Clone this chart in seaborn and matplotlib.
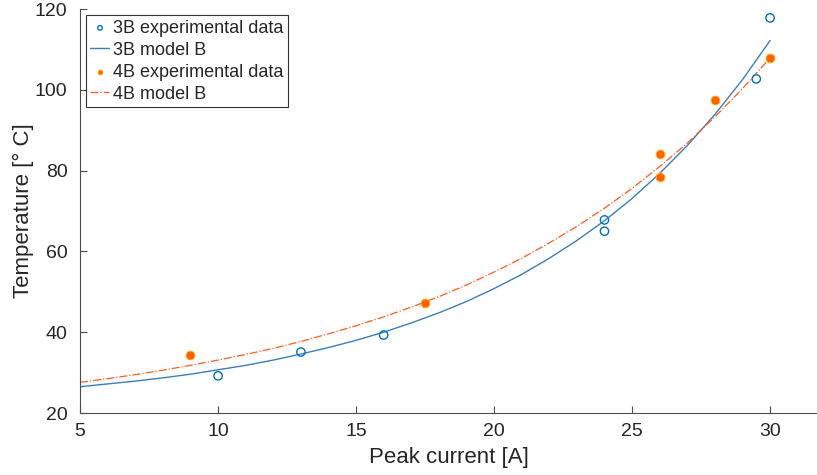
import numpy as np
import matplotlib
matplotlib.use("Agg")
import matplotlib.pyplot as plt
import seaborn as sns

sns.set_theme(style="white")
plt.rcParams['font.family'] = ['Liberation Sans', 'DejaVu Sans']

# experimental data
x_3b = [10, 13, 16, 24, 24, 29.5, 30]
t_3b = [29.2, 35.1, 39.3, 67.8, 65.0, 102.7, 117.8]
x_4b = [9, 17.5, 26, 26, 28, 30]
t_4b = [34.4, 47.2, 78.5, 84.0, 97.5, 107.9]

# model B curves, read every 1 A
x_model = list(range(5, 31))
t_3b_model = [26.5, 27.2, 27.9, 28.7, 29.6, 30.7, 31.8, 33.1, 34.6, 36.2,
              38.0, 40.0, 42.3, 44.8, 47.6, 50.8, 54.3, 58.3, 62.7, 67.6,
              73.1, 79.3, 86.2, 93.9, 102.5, 112.2]
t_4b_model = [27.6, 28.5, 29.5, 30.6, 31.8, 33.1, 34.5, 36.0, 37.7, 39.6,
              41.6, 43.8, 46.2, 48.8, 51.7, 54.9, 58.3, 62.1, 66.2, 70.7,
              75.6, 81.0, 86.8, 93.3, 100.3, 107.9]

blue = '#0072BD'
orange = '#FF6000'
grey = '#262626'
axis_grey = '#4d4d4d'

fig = plt.figure(figsize=(8.17, 4.75), dpi=100)
ax = fig.add_axes([0.098, 0.1305, 0.902, 0.8505])

sns.scatterplot(x=x_3b, y=t_3b, ax=ax, marker='o', s=36, facecolor='none',
                edgecolor=blue, linewidth=1.0, label='3B experimental data', zorder=3)
sns.lineplot(x=x_model, y=t_3b_model, ax=ax, color='#3b7dbb', linewidth=1.0,
             label='3B model B', zorder=2)
sns.scatterplot(x=x_4b, y=t_4b, ax=ax, marker='o', s=40, color=orange,
                edgecolor='#FFB000', linewidth=0.6, label='4B experimental data', zorder=3)
sns.lineplot(x=x_model, y=t_4b_model, ax=ax, color='#FF5A1F', linewidth=0.9,
             linestyle='-.', label='4B model B', zorder=2)

ax.set_xlim(5, 31.7)
ax.set_ylim(20, 120)
ax.set_xticks([5, 10, 15, 20, 25, 30])
ax.set_yticks([20, 40, 60, 80, 100, 120])
ax.set_xlabel('Peak current [A]', fontsize=16, color=grey, labelpad=5)
ax.set_ylabel('Temperature [° C]', fontsize=16, color=grey, labelpad=1)
ax.tick_params(direction='in', length=5, width=0.8, colors=axis_grey, labelcolor=grey,
               labelsize=14, bottom=True, left=True)
ax.tick_params(axis='x', pad=7)
ax.tick_params(axis='y', pad=9)

for side in ['top', 'right']:
    ax.spines[side].set_visible(False)
for side in ['left', 'bottom']:
    ax.spines[side].set_color(axis_grey)
    ax.spines[side].set_linewidth(0.8)

leg = ax.legend(loc='upper left', bbox_to_anchor=(0.008, 0.985), borderaxespad=0,
                fontsize=13, frameon=True, fancybox=False, handlelength=1.05,
                handletextpad=0.2, labelspacing=0.28, borderpad=0.25, markerscale=0.55)
leg.get_frame().set_edgecolor('black')
leg.get_frame().set_linewidth(0.8)

fig.savefig('out.png', dpi=100)
